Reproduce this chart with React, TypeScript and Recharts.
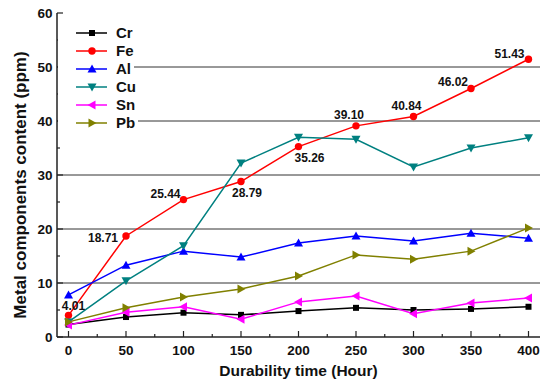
import { LineChart, Line, XAxis, YAxis, CartesianGrid, LabelList } from 'recharts';

const hours = [0, 50, 100, 150, 200, 250, 300, 350, 400];
const cr = [2.3, 3.7, 4.5, 4.1, 4.8, 5.4, 5.0, 5.2, 5.6];
const fe = [4.01, 18.71, 25.44, 28.79, 35.26, 39.1, 40.84, 46.02, 51.43];
const al = [7.8, 13.3, 15.9, 14.8, 17.4, 18.7, 17.8, 19.2, 18.3];
const cu = [2.8, 10.4, 16.9, 32.2, 37.0, 36.6, 31.5, 35.0, 36.9];
const sn = [2.2, 4.6, 5.6, 3.3, 6.5, 7.6, 4.3, 6.3, 7.2];
const pb = [2.8, 5.4, 7.4, 8.9, 11.3, 15.2, 14.4, 15.9, 20.2];

const xTicks = [0, 25, 50, 75, 100, 125, 150, 175, 200, 225, 250, 275, 300, 325, 350, 375, 400];
const yTicks = [0, 5, 10, 15, 20, 25, 30, 35, 40, 45, 50, 55, 60];
const gridValues = [10, 20, 30, 40, 50];

const series = [
  { key: 'Cr', color: '#000000', shape: 'square' },
  { key: 'Fe', color: '#ff0000', shape: 'circle' },
  { key: 'Al', color: '#0000ff', shape: 'up' },
  { key: 'Cu', color: '#008080', shape: 'down' },
  { key: 'Sn', color: '#ff00ff', shape: 'left' },
  { key: 'Pb', color: '#808000', shape: 'right' },
];

// where each Fe value label sits relative to its point
const feLabelOffsets = [
  [5, -9], [-23, 2], [-18, -6], [6, 11], [11, 11], [-7, -11], [-7, -10], [-18, -6], [-19, -5],
];

const data = hours.map((h, i) => ({
  hour: h,
  Cr: cr[i],
  Fe: fe[i],
  Al: al[i],
  Cu: cu[i],
  Sn: sn[i],
  Pb: pb[i],
}));

const FONT = "Arial, 'Liberation Sans', sans-serif";

function Marker({ shape, cx, cy, color }: any) {
  if (cx == null || cy == null) return null;
  const s = 4.5;
  switch (shape) {
    case 'square':
      return <rect x={cx - 3} y={cy - 3} width={6} height={6} fill={color} />;
    case 'circle':
      return <circle cx={cx} cy={cy} r={3.7} fill={color} />;
    case 'up':
      return <polygon points={`${cx},${cy - s} ${cx - s},${cy + 3.5} ${cx + s},${cy + 3.5}`} fill={color} />;
    case 'down':
      return <polygon points={`${cx},${cy + s} ${cx - s},${cy - 3.5} ${cx + s},${cy - 3.5}`} fill={color} />;
    case 'left':
      return <polygon points={`${cx - s},${cy} ${cx + 3.5},${cy - s} ${cx + 3.5},${cy + s}`} fill={color} />;
    default:
      return <polygon points={`${cx + s},${cy} ${cx - 3.5},${cy - s} ${cx - 3.5},${cy + s}`} fill={color} />;
  }
}

const YTick = (props: any) => {
  const { x, y, payload } = props;
  const major = payload.value % 10 === 0;
  return (
    <g>
      <line x1={x} x2={x + (major ? 6 : 3)} y1={y} y2={y} stroke="#222" strokeWidth={1.2} />
      {major && (
        <text x={x - 4.5} y={y + 4.5} textAnchor="end" fontSize={13.5} fontWeight="bold" fontFamily={FONT} fill="#111">
          {payload.value}
        </text>
      )}
    </g>
  );
};

const XTick = (props: any) => {
  const { x, y, payload } = props;
  const major = payload.value % 50 === 0;
  return (
    <g>
      <line x1={x} x2={x} y1={y} y2={y - (major ? 6 : 3)} stroke="#222" strokeWidth={1.2} />
      {major && (
        <text x={x} y={y + 18} textAnchor="middle" fontSize={13.5} fontWeight="bold" fontFamily={FONT} fill="#111">
          {payload.value}
        </text>
      )}
    </g>
  );
};

const FeLabel = (props: any) => {
  const { x, y, value, index } = props;
  const [dx, dy] = feLabelOffsets[index] || [0, -10];
  return (
    <text
      x={x + dx}
      y={y + dy}
      dominantBaseline="central"
      textAnchor="middle"
      fontSize={12}
      fontWeight="bold"
      fontFamily={FONT}
      fill="#111"
    >
      {Number(value).toFixed(2)}
    </text>
  );
};

function LegendBox() {
  return (
    <div style={{ position: 'absolute', left: 58, top: 24, fontFamily: FONT }}>
      {series.map((s) => (
        <div
          key={s.key}
          style={{ display: 'flex', alignItems: 'center', height: 18, background: '#fff', width: 'fit-content', paddingRight: 3 }}
        >
          <svg width={50} height={18}>
            <line x1={18} x2={49} y1={9} y2={9} stroke={s.color} strokeWidth={1.5} />
            <Marker shape={s.shape} cx={34} cy={9} color={s.color} />
          </svg>
          <span style={{ marginLeft: 8, fontSize: 15, fontWeight: 'bold', color: '#111', lineHeight: '18px' }}>{s.key}</span>
        </div>
      ))}
    </div>
  );
}

export default function App() {
  return (
    <div style={{ position: 'absolute', left: 0, top: 0, width: 544, height: 382, background: '#fff' }}>
      <LineChart width={544} height={382} data={data} margin={{ top: 13, right: 4, left: 0, bottom: 0 }}>
        <CartesianGrid vertical={false} horizontalValues={gridValues} stroke="#333" strokeWidth={1} />
        <XAxis
          dataKey="hour"
          type="number"
          domain={[-10, 410]}
          ticks={xTicks}
          interval={0}
          height={45}
          tickSize={0}
          tickMargin={0}
          tick={XTick}
          tickLine={false}
          axisLine={{ stroke: '#222', strokeWidth: 1.5 }}
          label={{
            content: (p: any) => {
              const vb = p.viewBox;
              return (
                <text x={vb.x + vb.width / 2} y={vb.y + 39} textAnchor="middle" fontSize={15.5} fontWeight="bold" fontFamily={FONT} fill="#111">
                  Durability time (Hour)
                </text>
              );
            },
          }}
        />
        <XAxis
          xAxisId="top"
          orientation="top"
          dataKey="hour"
          type="number"
          domain={[-10, 410]}
          height={0}
          tick={false}
          tickLine={false}
          axisLine={{ stroke: '#222', strokeWidth: 1.5 }}
        />
        <YAxis
          type="number"
          domain={[0, 60]}
          ticks={yTicks}
          interval={0}
          width={57}
          tickSize={0}
          tickMargin={0}
          tick={YTick}
          tickLine={false}
          axisLine={{ stroke: '#222', strokeWidth: 1.5 }}
          label={{
            content: (p: any) => {
              const vb = p.viewBox;
              const cx = 20;
              const cy = vb.y + vb.height / 2 + 10;
              return (
                <text x={cx} y={cy} transform={`rotate(-90 ${cx} ${cy})`} textAnchor="middle" dominantBaseline="central" fontSize={17} fontWeight="bold" fontFamily={FONT} fill="#111">
                  Metal components content (ppm)
                </text>
              );
            },
          }}
        />
        <YAxis
          yAxisId="right"
          orientation="right"
          type="number"
          domain={[0, 60]}
          width={0}
          tick={false}
          tickLine={false}
          axisLine={{ stroke: '#222', strokeWidth: 1.5 }}
        />
        {series.map((s) => (
          <Line
            key={s.key}
            dataKey={s.key}
            stroke={s.color}
            strokeWidth={1.5}
            isAnimationActive={false}
            activeDot={false}
            dot={(p: any) => <Marker key={`${s.key}-${p.index}`} shape={s.shape} cx={p.cx} cy={p.cy} color={s.color} />}
          >
            {s.key === 'Fe' && <LabelList dataKey="Fe" content={FeLabel} />}
          </Line>
        ))}
      </LineChart>
      <LegendBox />
    </div>
  );
}
